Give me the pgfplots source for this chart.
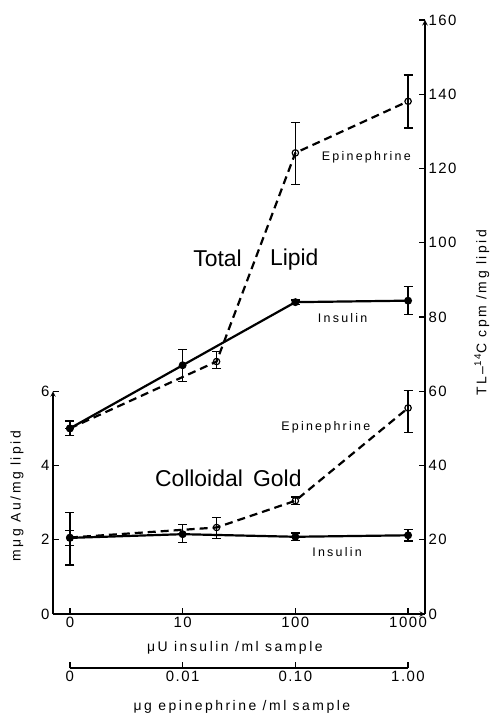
\documentclass[border=0pt]{standalone}
\usepackage{fontspec}
\setmainfont{Liberation Sans}
\newfontfamily\lsA[LetterSpace=10]{Liberation Sans}
\newfontfamily\lsB[LetterSpace=18]{Liberation Sans}
\usepackage{pgfplots}
\pgfplotsset{compat=1.18}

\newcommand{\tickfont}{\lsA\fontsize{15}{15}\selectfont}
\newcommand{\labfont}{\lsB\fontsize{14}{14}\selectfont}
\newcommand{\smallfont}{\lsB\fontsize{12.5}{12.5}\selectfont}
\newcommand{\bigfont}{\fontsize{23}{23}\selectfont}

\pgfplotsset{
  base/.style={scale only axis, width=372bp, xmin=-0.15, xmax=3.15, clip=false,
    axis line style={line width=1.4bp, -}, tick style={line width=1.3bp, black},
    major tick length=6bp,
    tick label style={font=\tickfont}, /pgf/number format/assume math mode=true},
  ins/.style={black, line width=2.2bp, mark=*, mark size=2.8bp,
    error bars/.cd, y dir=both, y explicit,
    error bar style={line width=1.3bp, solid},
    error mark options={rotate=90, line width=1.3bp, mark size=4.5bp, solid}},
  epi/.style={black, line width=2.2bp, dash pattern=on 8bp off 5bp,
    mark=o, mark size=3.2bp, mark options={solid, fill=white, line width=1.2bp},
    error bars/.cd, y dir=both, y explicit,
    error bar style={line width=1.3bp, solid},
    error mark options={rotate=90, line width=1.3bp, mark size=4.5bp, solid}},
}

\begin{document}
\begin{tikzpicture}
% total lipid, right scale
\begin{axis}[base, height=594bp, ymin=0, ymax=160,
  axis x line=bottom, axis y line=right, tick align=inside,
  xtick={0,1,2,3}, xticklabels={0,10,100,1000},
  ytick={0,20,...,160},
  xlabel={μU  insulin /ml  sample},
  xlabel style={font=\labfont, at={(axis description cs:0.489,-0.057)}, anchor=center},
  ylabel={TL–\textsuperscript{14}C  cpm /mg  lipid},
  ylabel style={font=\labfont, at={(axis description cs:1.153,0.507)}, anchor=center, rotate=0},
]
\addplot[epi] coordinates {
  (0,50) +- (0,0)
  (1.301,68) += (0,2.7) -= (0,1.8)
  (2,124.2) += (0,8.1) -= (0,8.5)
  (3,138.1) += (0,7.1) -= (0,7.2)
};
\addplot[ins] coordinates {
  (0,50) +- (0,2)
  (1,67) +- (0,4.3)
  (2,84) +- (0,0.6)
  (3,84.4) +- (0,3.8)
};
\node[font=\bigfont] at (axis cs:1.31,95.9) {Total};
\node[font=\bigfont] at (axis cs:1.99,95.4) {Lipid};
\node[font=\bigfont] at (axis cs:1.145,36.6) {Colloidal};
\node[font=\bigfont] at (axis cs:1.84,36.6) {Gold};
\node[font=\smallfont] at (axis cs:2.63,123.1) {Epinephrine};
\node[font=\smallfont] at (axis cs:2.42,79.7) {Insulin};
\node[font=\smallfont] at (axis cs:2.27,50.4) {Epinephrine};
\node[font=\smallfont] at (axis cs:2.37,16.7) {Insulin};
\end{axis}

% colloidal gold, left scale
\begin{axis}[base, height=222.75bp, ymin=0, ymax=6,
  axis x line=none, axis y line=left, tick align=inside,
  ytick={0,2,4,6},
  ylabel={mμg  Au/mg  lipid},
  ylabel style={font=\labfont, at={(axis description cs:-0.097,0.53)}, anchor=center},
]
\addplot[epi] coordinates {
  (0,2.06) += (0,0.67) -= (0,0.74)
  (1.301,2.33) += (0,0.27) -= (0,0.3)
  (2,3.05) +- (0,0.1)
  (3,5.55) += (0,0.47) -= (0,0.67)
};
\addplot[ins] coordinates {
  (0,2.05) +- (0,0.2)
  (1,2.15) += (0,0.27) -= (0,0.22)
  (2,2.08) +- (0,0.1)
  (3,2.12) +- (0,0.15)
};
\end{axis}

% second x scale, epinephrine
\begin{axis}[scale only axis, width=338.1bp, height=10bp, at={(16.9bp,-54bp)},
  xmin=0, xmax=3, ymin=0, ymax=1,
  axis x line=bottom, axis y line=none, tick align=inside,
  axis line style={line width=1.4bp, -}, tick style={line width=1.3bp, black},
  major tick length=6bp,
  xtick={0,1,2,3}, xticklabels={0,0.01,0.10,1.00},
  tick label style={font=\tickfont},
  xlabel={μg  epinephrine /ml  sample},
  xlabel style={font=\labfont, at={(axis description cs:0.509,-3.9)}, anchor=center},
]
\end{axis}

\pgfresetboundingbox
\path[use as bounding box] (-53bp,-101bp) rectangle (438bp,614bp);
\end{tikzpicture}
\end{document}
